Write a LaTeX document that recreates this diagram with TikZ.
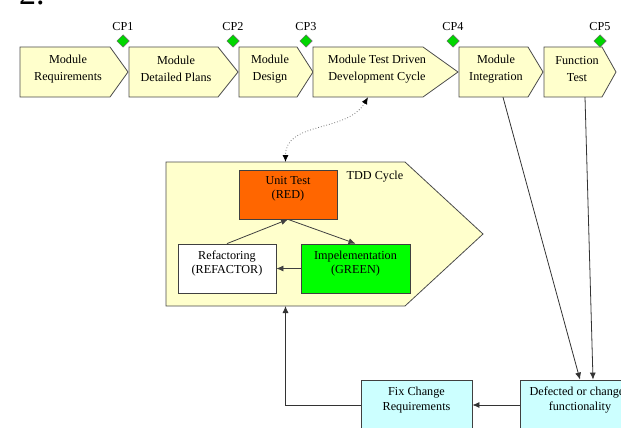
\documentclass[tikz,border=0pt]{standalone}
\usepackage{fontspec}
\setmainfont{Liberation Serif}
\usepackage{tikz}
\usetikzlibrary{shapes.geometric,positioning,arrows.meta}

\definecolor{stagefill}{RGB}{255,255,204}
\definecolor{cpgreen}{RGB}{0,214,0}
\definecolor{redstep}{RGB}{255,102,0}
\definecolor{greenstep}{RGB}{0,255,0}
\definecolor{reworkfill}{RGB}{204,255,255}

\tikzset{
  stage/.style={draw=black!70, fill=stagefill, line width=0.8pt},
  stagetext/.style={inner sep=0, minimum height=56, align=center,
    font=\fontsize{12.2}{17}\selectfont},
  checkpoint/.style={diamond, draw=black!60, fill=cpgreen, line width=0.5pt,
    minimum width=12.5, minimum height=12.5, inner sep=0, label distance=6pt},
  cplabel/.style={font=\fontsize{12.2}{14}\selectfont},
  stepbox/.style={draw=black!75, line width=0.8pt, minimum height=49, inner sep=0},
  boxtext/.style={inner sep=0, align=center, font=\fontsize{12.2}{13.5}\selectfont},
  reworktext/.style={inner sep=0, align=center, font=\fontsize{12.2}{15}\selectfont},
  cyclearrow/.style={draw=black!75, line width=0.8pt, ->},
  flow/.style={draw=black!80, line width=0.8pt, ->},
  dotlink/.style={draw=black!55, dotted, line width=0.8pt,
    {Latex[length=7pt,width=6pt,color=black]}-{Latex[length=7pt,width=6pt,color=black]}}
}

\begin{document}
\begin{tikzpicture}[x=1pt, y=1pt, >={Latex[length=7pt,width=6pt]}]
  \useasboundingbox (0,0) rectangle (621,-428);
  \clip (0,0) rectangle (621,-428);

  \node[anchor=base west, inner sep=0, font=\fontsize{34}{38}\selectfont] (sect) at (19,-5) {2.};

  % module stages along the top
  \draw[stage] (20,-47) -- (110,-47) -- (128,-72) -- (110,-97) -- (20,-97) -- cycle;
  \node[stagetext] (mreq) at (68,-69) {Module\\Requirements};
  \draw[stage] (129,-47) -- (218,-47) -- (238,-72) -- (218,-97) -- (129,-97) -- cycle;
  \node[stagetext] (mplan) at (176,-69) {Module\\Detailed Plans};
  \draw[stage] (239,-47) -- (297,-47) -- (313,-72) -- (297,-97) -- (239,-97) -- cycle;
  \node[stagetext] (mdes) at (270,-69) {Module\\Design};
  \draw[stage] (313,-47) -- (423,-47) -- (458,-72) -- (423,-97) -- (313,-97) -- cycle;
  \node[stagetext] (mtdd) at (377,-69) {Module Test Driven\\Development Cycle};
  \draw[stage] (459,-47) -- (528,-47) -- (543,-72) -- (528,-97) -- (459,-97) -- cycle;
  \node[stagetext] (mint) at (496,-69) {Module\\Integration};
  \draw[stage] (544,-47) -- (602,-47) -- (616,-72) -- (602,-97) -- (544,-97) -- cycle;
  \node[stagetext] (ftest) at (577,-69) {Function\\Test};

  % checkpoints
  \node[checkpoint, label={[cplabel]above:CP1}] (cp1) at (123,-41) {};
  \node[checkpoint, label={[cplabel]above:CP2}] (cp2) at (233,-41) {};
  \node[checkpoint, label={[cplabel]above:CP3}] (cp3) at (306,-41) {};
  \node[checkpoint, label={[cplabel]above:CP4}] (cp4) at (453,-41) {};
  \node[checkpoint, label={[cplabel]above:CP5}] (cp5) at (600,-41) {};

  % the TDD cycle
  \draw[stage] (166,-162) -- (405,-162) -- (483,-234) -- (405,-306) -- (166,-306) -- cycle;
  \coordinate (cycletop) at (285.5,-162);
  \coordinate (cyclebot) at (285.5,-306);
  \node[cplabel, inner sep=0] (cyclelbl) at (375,-177) {TDD Cycle};

  \node[stepbox, fill=redstep, minimum width=98] (unit) at (288,-194.5) {};
  \node[boxtext, below=7pt of unit.north] (unittext) {Unit Test\\(RED)};
  \node[stepbox, fill=white, minimum width=98] (refac) at (227,-268.5) {};
  \node[boxtext, below=7.5pt of refac.north] (refactext) {Refactoring\\(REFACTOR)};
  \node[stepbox, fill=greenstep, minimum width=109] (impl) at (355.5,-268.5) {};
  \node[boxtext, below=7.5pt of impl.north] (impltext) {Impelementation\\(GREEN)};

  \draw[cyclearrow] (refac.north) -- (unit.south);
  \draw[cyclearrow] (unit.south) -- (impl.north);
  \draw[cyclearrow] (impl.west) -- (refac.east);

  % rework loop at the bottom
  \node[stepbox, fill=reworkfill, minimum width=111, minimum height=50] (fix) at (416.5,-405) {};
  \node[reworktext, below=7.5pt of fix.north] (fixtext) {Fix Change\\Requirements};
  \node[stepbox, fill=reworkfill, minimum width=120, minimum height=50] (defect) at (580,-405) {};
  \node[reworktext, below=7.5pt of defect.north] (defecttext) {Defected or changed\\functionality};

  \draw[flow] ([xshift=7pt]mint.south) -- (defect.north);
  \draw[flow] ([xshift=8pt]ftest.south) -- ([xshift=13pt]defect.north);
  \draw[flow] (defect.west) -- (fix.east);
  \draw[flow] (fix.west) -| (cyclebot);
  \draw[dotlink] ([xshift=-9pt]mtdd.south) to [out=-120,in=90] (cycletop);
\end{tikzpicture}
\end{document}
